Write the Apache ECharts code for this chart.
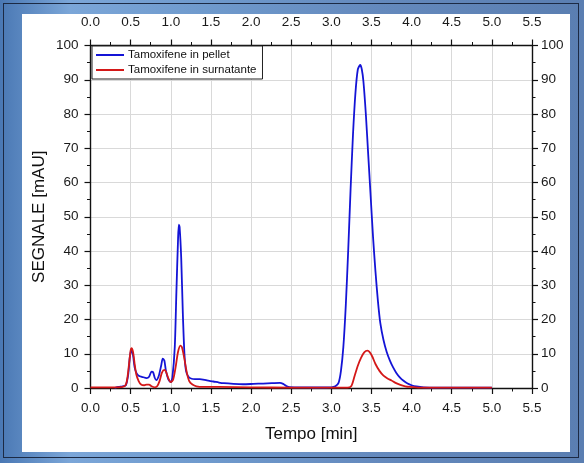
<!DOCTYPE html>
<html>
<head>
<meta charset="utf-8">
<script src="https://cdn.jsdelivr.net/npm/echarts@6/dist/echarts.min.js"></script>
<style>
html,body{margin:0;padding:0;width:584px;height:463px;overflow:hidden;}
body{background:linear-gradient(90deg,#4a78b4 0%,#7ba6d8 12%,#6f9acd 35%,#6489bd 65%,#5a7eb1 100%);}
#frame{position:absolute;left:3px;top:3px;width:576px;height:455px;border:1px solid #1c2a44;box-sizing:border-box;}
#panel{position:absolute;left:22px;top:14px;width:548px;height:438px;background:#fff;}
#chart{position:absolute;left:0;top:0;width:584px;height:463px;}
</style>
</head>
<body>
<div id="frame"></div>
<div id="panel"></div>
<div id="chart"></div>
<script>
// Tick labels / categories
const xTicks = [0,0.5,1,1.5,2,2.5,3,3.5,4,4.5,5,5.5];
const yTicks = [0,10,20,30,40,50,60,70,80,90,100];
const seriesNames = ['Tamoxifene in pellet','Tamoxifene in surnatante'];

// Blue: Tamoxifene in pellet
const pelletTime = [0.30,0.35,0.40,0.44,0.47,0.49,0.51,0.53,0.55,0.57,0.60,0.65,0.70,0.73,0.76,0.78,0.80,0.82,0.85,0.88,0.90,0.92,0.94,0.97,1.00,1.02,1.05,1.07,1.09,1.10,1.11,1.13,1.15,1.17,1.19,1.22,1.26,1.30,1.36,1.45,1.53,1.60,1.66,1.78,1.90,2.03,2.15,2.26,2.36,2.40,2.44,2.48,2.60,2.80,3.00,3.05,3.09,3.12,3.15,3.18,3.21,3.24,3.27,3.30,3.33,3.36,3.38,3.40,3.43,3.46,3.49,3.52,3.55,3.58,3.61,3.65,3.69,3.73,3.77,3.81,3.85,3.90,3.95,4.00,4.06,4.15,4.30,5.00];
const pelletVal  = [0.0,0.3,0.5,0.8,4,9,11.2,9.5,6,4.5,3.6,3.2,2.9,3.3,4.8,4.6,3.0,2.3,3.5,6.5,8.6,8.0,5.0,2.5,1.7,3,12,28,43,47.7,47,38,22,10,5,3.3,2.7,2.6,2.6,2.2,1.9,1.6,1.4,1.2,1.1,1.2,1.3,1.4,1.5,1.2,0.6,0.25,0.2,0.15,0.2,0.5,1.5,5,12,24,40,58,74,86,93,94.3,93,89.5,80,68,56,44,34,25.5,19,14,10.5,8,6,4.4,3.2,2.1,1.3,0.8,0.45,0.2,0.1,0.1];

// Red: Tamoxifene in surnatante
const surnTime = [0.00,0.30,0.40,0.44,0.46,0.48,0.50,0.51,0.53,0.55,0.57,0.60,0.63,0.67,0.70,0.73,0.76,0.80,0.83,0.86,0.89,0.92,0.94,0.97,1.00,1.03,1.06,1.09,1.12,1.14,1.17,1.20,1.23,1.27,1.32,1.40,1.60,2.00,2.50,3.00,3.20,3.25,3.29,3.33,3.37,3.41,3.45,3.48,3.51,3.55,3.60,3.65,3.70,3.75,3.80,3.86,3.92,3.98,4.10,5.00];
const surnVal  = [0.2,0.2,0.3,1,3,7,11,11.6,10.5,7,4,2,1,0.8,1.0,1.0,0.5,0.2,0.5,2,4.5,5.3,4.8,2.8,1.7,2.5,6,10.5,12.4,11.8,8.5,4.5,2,1,0.5,0.3,0.3,0.2,0.1,0.1,0.1,0.6,3.5,6.5,8.8,10.4,10.9,10.4,9.2,7,5,3.6,2.8,2.2,1.5,0.9,0.5,0.3,0.1,0.1];

const zip = (a,b) => a.map((t,i)=>[t,b[i]]);
const font = 'Arial, "Liberation Sans", sans-serif';
const lblStyle = {fontFamily:font,fontSize:13.5,color:'#1a1a1a'};
const axLine = {show:true,onZero:false,lineStyle:{color:'#111',width:1.4}};

function xAx(pos, isMain){
  return {
    type:'value', position:pos, min:0, max:5.5, interval:0.5,
    axisLine:axLine,
    axisTick:{show:true,length:6,lineStyle:{color:'#111',width:1.2}},
    minorTick:{show:true,splitNumber:2,length:3.5,lineStyle:{color:'#111',width:1}},
    axisLabel:Object.assign({margin:pos==='top'?16:13,formatter:v=>v.toFixed(1)},lblStyle),
    splitLine:{show:isMain,lineStyle:{color:'#d9d9d9',width:1}},
    name:isMain?'Tempo [min]':'', nameLocation:'middle', nameGap:38, nameMoveOverlap:false,
    nameTextStyle:{fontFamily:font,fontSize:17,color:'#111'}
  };
}
function yAx(pos, isMain){
  return {
    type:'value', position:pos, min:0, max:100, interval:10,
    axisLine:axLine,
    axisTick:{show:true,length:6,lineStyle:{color:'#111',width:1.2}},
    minorTick:{show:true,splitNumber:2,length:3.5,lineStyle:{color:'#111',width:1}},
    axisLabel:Object.assign({margin:pos==='left'?12:9},lblStyle),
    splitLine:{show:isMain,lineStyle:{color:'#d9d9d9',width:1}},
    name:isMain?'SEGNALE [mAU]':'', nameLocation:'middle', nameGap:43, nameRotate:90, nameMoveOverlap:false,
    nameTextStyle:{fontFamily:font,fontSize:17,color:'#111'}
  };
}

const chart = echarts.init(document.getElementById('chart'),null,{renderer:'canvas'});
chart.setOption({
  animation:false,
  backgroundColor:'transparent',
  grid:{left:90.5,right:52,top:45.5,bottom:75},
  xAxis:[xAx('bottom',true), xAx('top',false)],
  yAxis:[yAx('left',true), yAx('right',false)],
  legend:{
    left:92, top:46, orient:'vertical',
    backgroundColor:'#fff', borderColor:'#222', borderWidth:1, borderRadius:0,
    padding:[3,6,3,4], itemGap:3, itemWidth:28, itemHeight:2,
    icon:'rect',
    textStyle:{fontFamily:font,fontSize:11.5,color:'#111',padding:[0,0,0,-1]},
    data:seriesNames
  },
  series:[
    {name:seriesNames[0],type:'line',data:zip(pelletTime,pelletVal),showSymbol:false,smooth:0.25,
     color:'#1414d6',lineStyle:{width:1.8,color:'#1414d6'}},
    {name:seriesNames[1],type:'line',data:zip(surnTime,surnVal),showSymbol:false,smooth:0.25,
     color:'#d41818',lineStyle:{width:1.8,color:'#d41818'}}
  ]
});
</script>
</body>
</html>
